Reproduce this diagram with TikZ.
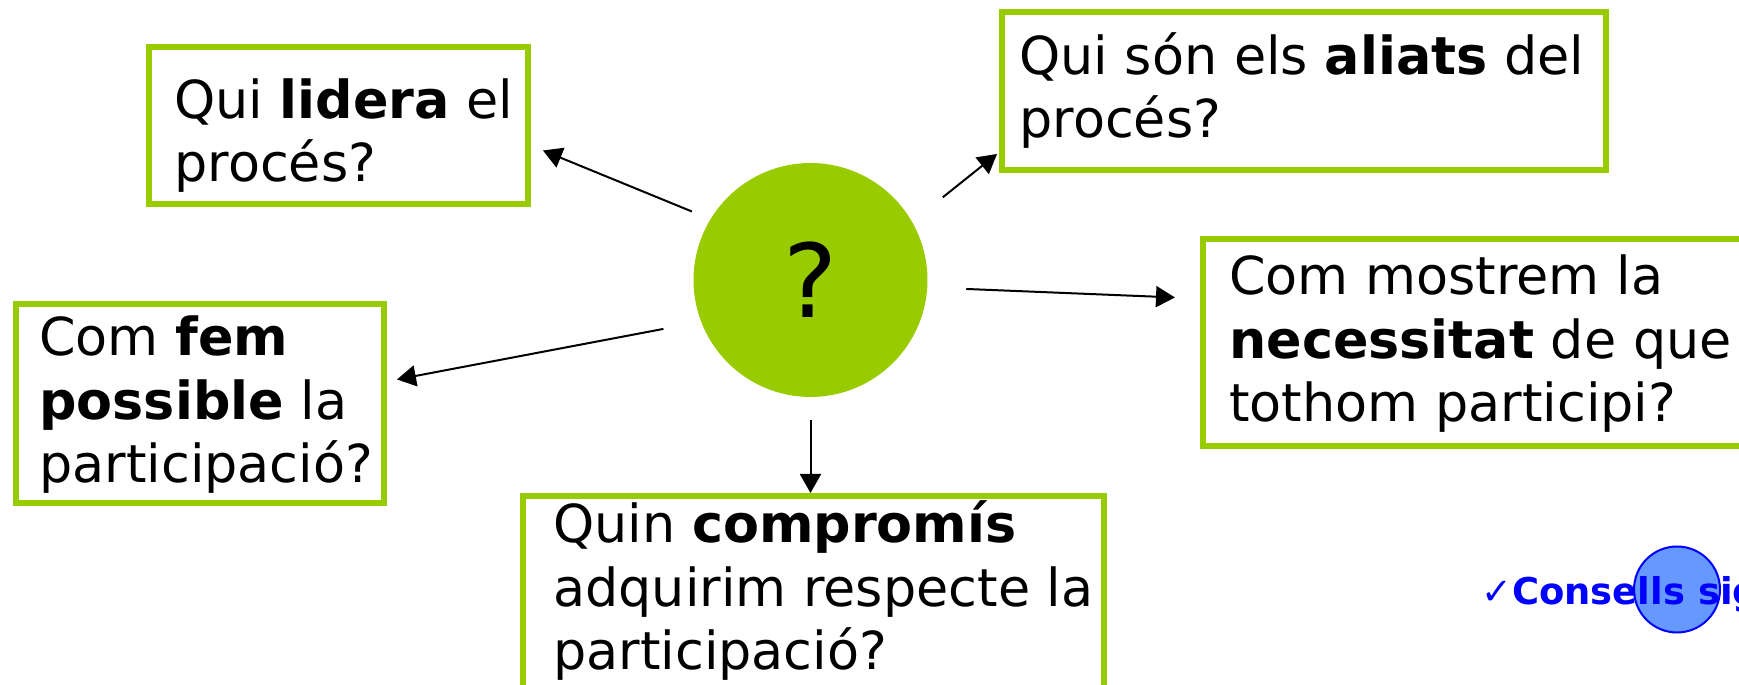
\documentclass[tikz,border=0pt]{standalone}
\usepackage{fontspec}
\setmainfont{DejaVu Sans}
\usetikzlibrary{calc,arrows.meta}
\definecolor{qgreen}{HTML}{99CC00}
\definecolor{tipblue}{HTML}{0000FF}
\definecolor{dotblue}{HTML}{6699FF}

\begin{document}
\begin{tikzpicture}[x=0.02cm,y=0.02cm,
    qbox/.style={draw=qgreen,line width=0.12cm,fill=white,anchor=north west,inner sep=0pt},
    qtext/.style={anchor=base west,inner sep=0pt,align=left,
                  font=\fontsize{29.8pt}{36.4pt}\selectfont},
    arr/.style={-{Triangle[length=0.38cm,width=0.42cm]},line width=0.04cm}]
  \useasboundingbox (0,0) rectangle (1739,685);

  % central question
  \node[circle,fill=qgreen,minimum size=4.68cm,inner sep=0pt,
        font=\fontsize{58pt}{60pt}\selectfont] (hub) at (810.5,405) {?};

  % question boxes
  \node[qbox,minimum width=7.58cm,minimum height=3.14cm] (lidera) at (146,641) {};
  \node[qbox,minimum width=12.08cm,minimum height=3.16cm] (aliats) at (999,676) {};
  \node[qbox,minimum width=11.88cm,minimum height=4.14cm] (necess) at (1200,449) {};
  \node[qbox,minimum width=7.36cm,minimum height=3.98cm] (fem) at (13,384) {};
  \node[qbox,minimum width=11.62cm,minimum height=5.22cm] (comp) at (520,192) {};

  % texts, placed at the baseline of their last line
  \node[qtext] (lidera-txt) at (174,503) {Qui \textbf{lidera} el\\procés?};
  \node[qtext] (aliats-txt) at (1019,547) {Qui són els \textbf{aliats} del\\procés?};
  \node[qtext] (necess-txt) at (1229,263) {Com mostrem la\\\textbf{necessitat} de que\\tothom participi?};
  \node[qtext] (fem-txt) at (39,202) {Com \textbf{fem}\\\textbf{possible} la\\participació?};
  \node[qtext] (comp-txt) at (553,15) {Quin \textbf{compromís}\\adquirim respecte la\\participació?};

  \path[arr]
    ($(hub)+(150:137)$) edge ($(lidera.east)+(12,-25)$)
    ($(hub)+(32:156)$) edge ($(aliats.south west)+(-2,19)$)
    ($(hub)+(-3.3:156)$) edge ($(necess.west)+(-25,45)$)
    ($(hub)+(198.4:155)$) edge ($(fem.east)+(10,24)$)
    ($(hub)+(270:140)$) edge (comp.north -| hub);

  % link button
  \node[circle,draw=tipblue,fill=dotblue,line width=0.04cm,
        minimum size=1.72cm,inner sep=0pt] (tip) at (1677,95.5) {};
  \node[anchor=base west,inner sep=0pt,text=tipblue,
        font=\bfseries\fontsize{21pt}{24pt}\selectfont] (consells) at (1481,80) {✓Consells sig};
\end{tikzpicture}
\end{document}
